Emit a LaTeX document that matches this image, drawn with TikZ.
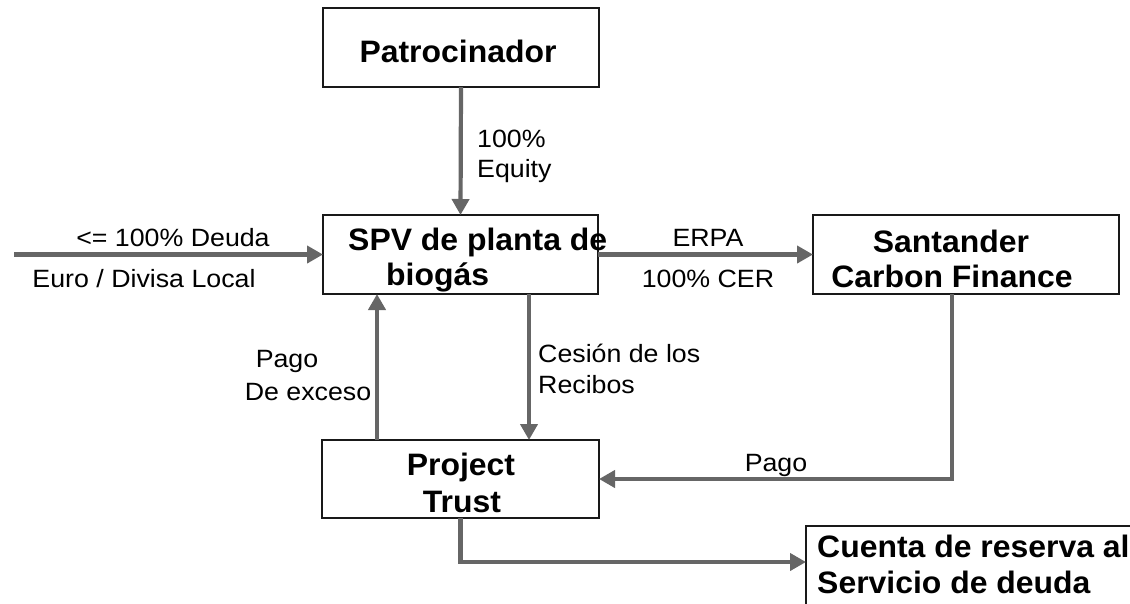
\documentclass[tikz,border=0pt]{standalone}
\usepackage{fontspec}
\setmainfont{Liberation Sans}
\newfontfamily\lblfam[FakeStretch=1.07]{Liberation Sans}
\newfontfamily\boxfam[FakeStretch=1.03]{Liberation Sans Bold}
\usetikzlibrary{arrows.meta}
\newcommand\lblfont{\lblfam\fontsize{25}{30}\selectfont}
\newcommand\boxfont{\boxfam\fontsize{31}{36}\selectfont}
\definecolor{conngray}{HTML}{666666}
\begin{document}
\begin{tikzpicture}[x=1pt,y=-1pt,
  box/.style={draw=black!90,line width=2pt,inner sep=0pt,outer sep=0pt,fill=white},
  conn/.style={draw=conngray,line width=4.2pt,-{Triangle[length=16pt,width=17pt]}},
  lbl/.style={inner sep=0pt,font=\lblfont},
  btxt/.style={inner sep=0pt,font=\boxfont}]
\useasboundingbox (0,0) rectangle (1130,603);
\begin{scope}
\clip (0,0) rectangle (1130,603);
% boxes
\node[box,minimum width=276pt,minimum height=79pt] (pat) at (461,47.5) {};
\node[box,minimum width=275pt,minimum height=79pt] (spv) at (460.5,254.5) {};
\node[box,minimum width=306pt,minimum height=79pt] (san) at (966,254.5) {};
\node[box,minimum width=277pt,minimum height=78pt] (trust) at (460.5,479) {};
\node[box,minimum width=454pt,minimum height=154pt] (cue) at (1033,603) {};
\coordinate (dstart) at (14,254.5);
\coordinate (cuein) at (806,562);
% connectors
\draw[conn] (pat.south) -- (spv.north);
\draw[conn] (dstart) -- (spv.west);
\draw[conn] (spv.east) -- (san.west);
\draw[conn] ([xshift=68.5pt]spv.south) -- ([xshift=68.5pt]spv.south |- trust.north);
\draw[conn] ([xshift=-83.5pt]trust.north) -- ([xshift=-83.5pt]trust.north |- spv.south);
\draw[conn] ([xshift=-14pt]san.south) |- (trust.east);
\draw[conn] (trust.south) |- (cuein);
% box texts
\node[btxt,anchor=base] (tpat) at (458,62) {Patrocinador};
\node[btxt,anchor=base west] (tspv1) at (348,250) {SPV de planta de};
\node[btxt,anchor=base west] (tspv2) at (386,285) {biogás};
\node[btxt,anchor=base] (tsan1) at (951,252) {Santander};
\node[btxt,anchor=base] (tsan2) at (952,287) {Carbon Finance};
\node[btxt,anchor=base] (ttr1) at (461,475) {Project};
\node[btxt,anchor=base] (ttr2) at (462,512) {Trust};
\node[btxt,anchor=base west] (tcue1) at (817,557) {Cuenta de reserva al};
\node[btxt,anchor=base west] (tcue2) at (817,593) {Servicio de deuda};
% labels
\node[lbl,anchor=base west] (l1) at (477,147) {100\%};
\node[lbl,anchor=base west] (l2) at (477,177) {Equity};
\node[lbl,anchor=base] (l3) at (173,246) {<= 100\% Deuda};
\node[lbl,anchor=base] (l4) at (144,287) {Euro / Divisa Local};
\node[lbl,anchor=base] (l5) at (708,246) {ERPA};
\node[lbl,anchor=base] (l6) at (708,287) {100\% CER};
\node[lbl,anchor=base west] (l7) at (538,362) {Cesión de los};
\node[lbl,anchor=base west] (l8) at (538,393) {Recibos};
\node[lbl,anchor=base] (l9) at (287,367) {Pago};
\node[lbl,anchor=base] (l10) at (308,400) {De exceso};
\node[lbl,anchor=base] (l11) at (776,471) {Pago};
\end{scope}
\end{tikzpicture}
\end{document}
